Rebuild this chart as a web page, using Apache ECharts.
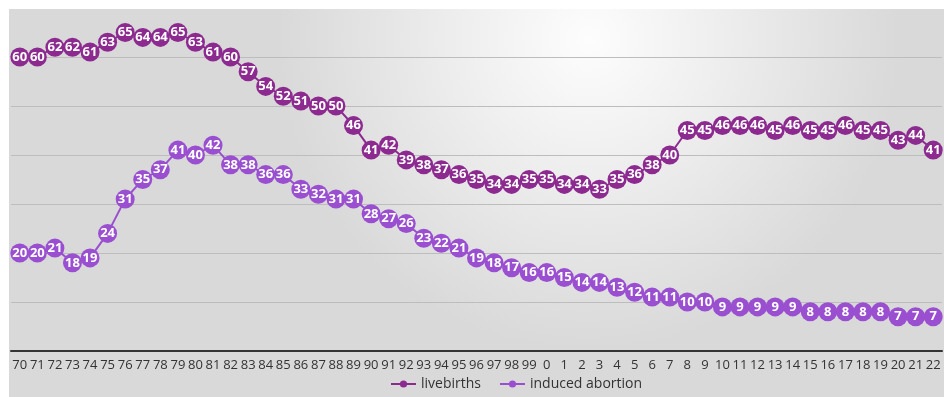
<!DOCTYPE html>
<html>
<head>
<meta charset="utf-8">
<style>
  html, body { margin: 0; padding: 0; background: #ffffff; }
  #chart { width: 944px; height: 397px; }
</style>
<script src="https://cdn.jsdelivr.net/npm/echarts@6/dist/echarts.min.js"></script>
</head>
<body>
<div id="chart"></div>
<script>
// Years 1970–2022, shown as two-digit labels
const years = ['70','71','72','73','74','75','76','77','78','79',
  '80','81','82','83','84','85','86','87','88','89',
  '90','91','92','93','94','95','96','97','98','99',
  '0','1','2','3','4','5','6','7','8','9',
  '10','11','12','13','14','15','16','17','18','19',
  '20','21','22'];

const livebirths = [60,60,62,62,61,63,65,64,64,65,
  63,61,60,57,54,52,51,50,50,46,
  41,42,39,38,37,36,35,34,34,35,
  35,34,34,33,35,36,38,40,45,45,
  46,46,46,45,46,45,45,46,45,45,
  43,44,41];

const inducedAbortion = [20,20,21,18,19,24,31,35,37,41,
  40,42,38,38,36,36,33,32,31,31,
  28,27,26,23,22,21,19,18,17,16,
  16,15,14,14,13,12,11,11,10,10,
  9,9,9,9,9,8,8,8,8,8,
  7,7,7];

const FONT = '"Open Sans", "DejaVu Sans", sans-serif';

function lineSeries(name, data, color) {
  return {
    name: name,
    type: 'line',
    data: data,
    symbol: 'circle',
    symbolSize: 19,
    lineStyle: { color: color, width: 2 },
    itemStyle: { color: color },
    label: {
      show: true,
      position: 'inside',
      color: '#ffffff',
      fontFamily: FONT,
      fontSize: 13,
      fontWeight: 'bold'
    },
    emphasis: { disabled: true },
    animation: false
  };
}

const chart = echarts.init(document.getElementById('chart'), null, { renderer: 'canvas' });
chart.setOption({
  animation: false,
  graphic: [{
    type: 'rect',
    z: -10,
    silent: true,
    shape: { x: 9, y: 9, width: 935, height: 388 },
    style: {
      fill: {
        type: 'radial', x: 0.62, y: 0.08, r: 0.8,
        colorStops: [
          { offset: 0, color: '#fdfdfd' },
          { offset: 0.45, color: '#ededed' },
          { offset: 1, color: '#d9d9d9' }
        ]
      }
    }
  }],
  grid: { left: 11, right: 2, top: 8, bottom: 46 },
  legend: {
    bottom: 1,
    left: 385,
    itemWidth: 25,
    itemHeight: 9,
    itemGap: 18,
    textStyle: { fontFamily: FONT, fontSize: 14, color: '#333' },
    data: ['livebirths', 'induced abortion']
  },
  xAxis: {
    type: 'category',
    data: years,
    boundaryGap: true,
    axisLine: { lineStyle: { color: '#333', width: 2 } },
    axisTick: { show: false },
    axisLabel: {
      interval: 0,
      color: '#333',
      fontFamily: FONT,
      fontSize: 13,
      margin: 8
    }
  },
  yAxis: {
    type: 'value',
    min: 0,
    max: 70,
    interval: 10,
    axisLine: { show: false },
    axisTick: { show: false },
    axisLabel: { show: false },
    splitLine: {
      lineStyle: {
        color: ['#bdbdbd','#bdbdbd','#bdbdbd','#bdbdbd','#bdbdbd','#bdbdbd','#bdbdbd','rgba(0,0,0,0)'],
        width: 1
      }
    }
  },
  series: [
    lineSeries('livebirths', livebirths, '#8c2a90'),
    lineSeries('induced abortion', inducedAbortion, '#9a4fd0')
  ]
});
</script>
</body>
</html>
